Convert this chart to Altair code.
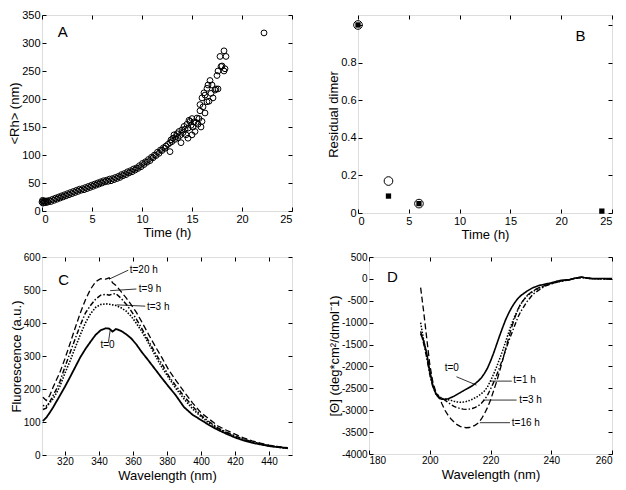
import altair as alt
import pandas as pd

FONT = "Liberation Sans"

# ---------------- Panel A : <Rh> vs time ----------------
A_time = [0.0, 0.05, 0.1, 0.15, 0.2, 0.3, 0.4, 0.5, 0.6, 0.75, 0.9, 1.05, 1.2, 1.35, 1.5,
          1.65, 1.8, 1.95, 2.1, 2.25, 2.4, 2.55, 2.7, 2.85, 3.0, 3.15, 3.3, 3.45, 3.6, 3.75,
          3.9, 4.05, 4.2, 4.35, 4.5, 4.65, 4.8, 4.95, 5.1, 5.25, 5.4, 5.55, 5.7, 5.85, 6.0,
          6.15, 6.3, 6.45, 6.6, 6.75, 6.9, 7.05, 7.2, 7.35, 7.5, 7.65, 7.8, 7.95, 8.1, 8.25,
          8.4, 8.55, 8.7, 8.85, 9.0, 9.15, 9.3, 9.45, 9.6, 9.75, 9.9, 10.05, 10.2, 10.35, 10.5,
          10.65, 10.8, 10.95, 11.1, 11.25, 11.4, 11.55, 11.7, 11.85, 12.0, 12.15, 12.3,
          12.4, 12.6, 12.8, 12.8, 12.9, 13.0, 13.1, 13.2, 13.3, 13.4, 13.5, 13.6, 13.7, 13.8,
          13.9, 14.0, 14.1, 14.2, 14.3, 14.4, 14.5, 14.6, 14.6, 14.7, 14.8, 14.9, 15.0, 15.0,
          15.1, 15.2, 15.3, 15.4, 15.5, 15.6, 15.7, 15.8, 15.8, 15.9, 16.0, 16.0, 16.1, 16.2,
          16.3, 16.3, 16.5, 16.5, 16.7, 16.6, 16.8, 16.9, 17.0, 17.1, 17.3, 17.4, 17.5, 17.6,
          17.6, 17.8, 17.9, 18.0, 18.2, 18.2, 18.3, 18.4, 22.2]
A_rh = [16, 19, 14, 18, 15, 18, 15, 18, 16, 19, 17, 21, 19, 23, 21,
        25, 23, 27, 25, 29, 27, 31, 29, 33, 31, 35, 33, 37, 35, 39,
        37, 40, 38, 42, 40, 44, 42, 46, 44, 48, 46, 50, 48, 52, 50,
        54, 52, 55, 53, 57, 54, 58, 56, 60, 58, 62, 60, 65, 63, 67,
        65, 70, 68, 72, 70, 75, 73, 77, 76, 81, 79, 85, 83, 88, 87,
        92, 90, 96, 95, 100, 99, 105, 103, 109, 108, 113, 112,
        116, 119, 106, 122, 127, 124, 130, 136, 128, 133, 138, 131, 142, 135,
        122, 145, 140, 151, 146, 136, 155, 130, 148, 162, 160, 153, 136, 165,
        150, 159, 142, 158, 166, 155, 165, 179, 190, 150, 160, 202, 186, 211,
        207, 175, 219, 195, 196, 225, 233, 210, 225, 202, 216, 218, 242, 250,
        218, 276, 258, 259, 286, 250, 254, 276, 318]
A_xticks = [0, 5, 10, 15, 20, 25]
A_yticks = [0, 50, 100, 150, 200, 250, 300, 350]

# ---------------- Panel B : residual dimer ----------------
B_circle_time = [0, 3, 6]
B_circle_dimer = [1.0, 0.17, 0.05]
B_square_time = [0, 3, 6, 24]
B_square_dimer = [1.0, 0.09, 0.05, 0.01]
B_xticks = [0, 5, 10, 15, 20, 25]
B_yticks = [0, 0.2, 0.4, 0.6, 0.8, 1.0]

# ---------------- Panel C : fluorescence ----------------
C_wavelength = [307, 309, 311, 313, 315, 317, 320, 323, 326, 329, 332, 335, 338, 341, 344,
                346, 348, 350, 353, 356, 359, 362, 365, 369, 373, 377, 381, 385, 390, 395,
                400, 405, 410, 415, 420, 425, 430, 435, 440, 445, 451]
C_t0 = [103, 113, 128, 144, 162, 180, 207, 236, 266, 296, 321, 343, 364, 378, 384,
        383, 374, 382, 376, 366, 353, 335, 313, 287, 260, 233, 207, 182, 145, 122,
        106, 90, 76, 64, 53, 44, 37, 32, 27, 24, 21]
C_t3 = [150, 148, 158, 170, 188, 208, 248, 285, 325, 364, 400, 428, 447, 456, 458,
        457, 455, 453, 446, 436, 420, 399, 376, 340, 302, 266, 234, 203, 170, 140,
        116, 96, 80, 67, 56, 47, 39, 33, 28, 24, 20]
C_t9 = [138, 142, 160, 180, 200, 222, 267, 310, 352, 393, 430, 453, 472, 484, 487,
        484, 488, 489, 475, 457, 436, 412, 385, 347, 310, 276, 240, 211, 178, 148,
        120, 100, 82, 69, 58, 48, 40, 34, 28, 24, 20]
C_t20 = [175, 165, 180, 205, 228, 250, 292, 338, 385, 430, 470, 502, 525, 534, 533,
         537, 522, 514, 495, 476, 455, 432, 405, 367, 330, 295, 258, 228, 192, 158,
         128, 108, 88, 75, 63, 52, 43, 36, 30, 26, 22]
C_series = ["t=0", "t=3 h", "t=9 h", "t=20 h"]
C_xticks = [320, 340, 360, 380, 400, 420, 440]
C_yticks = [0, 100, 200, 300, 400, 500, 600]
C_label_text = ["t=20 h", "t=9 h", "t=3 h", "t=0"]
C_label_x = [358.1, 363.4, 368.2, 340.9]
C_label_y = [560, 502, 450, 333]
C_leader_x1 = [346.0, 346.6, 350.4, 346.6]
C_leader_y1 = [533, 498, 455, 378]
C_leader_x2 = [357.2, 362.0, 367.2, 345.6]
C_leader_y2 = [560, 503, 451, 343]

# ---------------- Panel D : circular dichroism ----------------
D_wavelength = [197, 198, 199, 200, 201, 202, 203, 204, 205, 206, 207, 208, 209, 210, 211,
                212, 213, 214, 215, 216, 217, 218, 219, 220, 221, 222, 223, 224, 225, 226,
                227, 228, 229, 230, 232, 234, 236, 238, 240, 242, 244, 246, 248, 250, 252,
                254, 256, 258, 260]
D_t0 = [-1250, -1420, -1700, -2100, -2430, -2620, -2720, -2750, -2750, -2740, -2710, -2680,
        -2640, -2600, -2560, -2520, -2480, -2440, -2390, -2330, -2260, -2160, -2040, -1880,
        -1700, -1500, -1300, -1110, -930, -780, -650, -540, -450, -380, -280, -200, -150,
        -120, -90, -50, -25, -20, 20, 40, 15, 5, 10, 5, 5]
D_t1 = [-1000, -1400, -1750, -2150, -2450, -2630, -2710, -2730, -2745, -2760, -2775, -2795,
        -2810, -2820, -2815, -2800, -2780, -2750, -2715, -2675, -2620, -2560, -2470, -2330,
        -2180, -2010, -1830, -1640, -1430, -1220, -1020, -850, -710, -570, -390, -290, -210,
        -150, -105, -70, -40, -20, 15, 35, 15, 0, 5, -5, 0]
D_t3 = [-1200, -1480, -1800, -2180, -2460, -2620, -2690, -2720, -2770, -2820, -2870, -2910,
        -2940, -2960, -2975, -2980, -2975, -2960, -2935, -2900, -2840, -2760, -2660, -2520,
        -2370, -2200, -2020, -1830, -1620, -1420, -1240, -1060, -880, -740, -520, -350, -250,
        -165, -115, -75, -45, -20, 15, 30, 15, 5, 0, 5, 0]
D_t16 = [-200, -750, -1350, -1950, -2350, -2580, -2680, -2850, -3000, -3110, -3200, -3270,
         -3330, -3370, -3390, -3400, -3395, -3375, -3340, -3290, -3200, -3080, -2940, -2770,
         -2560, -2350, -2110, -1860, -1600, -1340, -1100, -890, -700, -560, -380, -270, -200,
         -150, -100, -65, -40, -15, 20, 40, 20, 5, 5, 0, 5]
D_series = ["t=0", "t=1 h", "t=3 h", "t=16 h"]
D_xticks = [180, 200, 220, 240, 260]
D_yticks = [-4000, -3500, -3000, -2500, -2000, -1500, -1000, -500, 0, 500]
D_label_text = ["t=0", "t=1 h", "t=3 h", "t=16 h"]
D_label_x = [204.9, 227.5, 229.5, 227.0]
D_label_y = [-2046, -2320, -2760, -3290]
D_leader_x1 = [208.8, 219.8, 217.6, 216.5]
D_leader_y1 = [-2236, -2335, -2768, -3285]
D_leader_x2 = [215.4, 227.0, 228.6, 226.4]
D_leader_y2 = [-2426, -2335, -2768, -3285]

# panel letters
letters = {"A": (2.07, 319), "B": (21.9, 0.94), "C": (319.2, 530), "D": (187.7, 44)}


def main_axis(values, title, label_size, title_size, label_expr=None, fmt=None,
              label_pad=2, title_pad=0):
    kw = dict(values=values, title=title, offset=-4, tickSize=4, domain=False, grid=False,
              labelFont=FONT, labelFontSize=label_size, labelColor="black",
              labelPadding=label_pad, titleFont=FONT, titleFontSize=title_size,
              titleFontWeight="normal", titleColor="black", titlePadding=title_pad,
              tickColor="black", tickWidth=1, labelOverlap=False, minExtent=0)
    if label_expr is not None:
        kw["labelExpr"] = label_expr
    if fmt is not None:
        kw["format"] = fmt
    return alt.Axis(**kw)


def mirror_axis(values, orient):
    return alt.Axis(values=values, orient=orient, labels=False, title=None, offset=-4,
                    tickSize=4, domain=False, grid=False, tickColor="black", tickWidth=1,
                    minExtent=0, maxExtent=0)


def letter_layer(key, xs, ys):
    lx, ly = letters[key]
    df = pd.DataFrame({"x": [lx], "y": [ly], "s": [key]})
    return alt.Chart(df).mark_text(font=FONT, fontSize=15, color="black").encode(
        x=alt.X("x:Q", scale=xs, axis=None), y=alt.Y("y:Q", scale=ys, axis=None), text="s:N")


def mirror_layer(df, xf, yf, xs, ys, xt, yt):
    return alt.Chart(df).mark_point(opacity=0).encode(
        x=alt.X(xf, scale=xs, axis=mirror_axis(xt, "top")),
        y=alt.Y(yf, scale=ys, axis=mirror_axis(yt, "right")))


# ---- A ----
dfA = pd.DataFrame({"t": A_time, "rh": A_rh})
xA = alt.Scale(domain=[0, 25], nice=False, zero=False)
yA = alt.Scale(domain=[0, 350], nice=False, zero=False)
ptsA = alt.Chart(dfA).mark_point(shape="circle", filled=False, size=34, strokeWidth=1,
                                 color="black", opacity=1).encode(
    x=alt.X("t:Q", scale=xA, axis=main_axis(A_xticks, "Time (h)", 11, 13, title_pad=2)),
    y=alt.Y("rh:Q", scale=yA, axis=main_axis(A_yticks, "<Rh> (nm)", 11, 13)))
panelA = alt.layer(ptsA, mirror_layer(dfA, "t:Q", "rh:Q", xA, yA, A_xticks, A_yticks),
                   letter_layer("A", xA, yA)).resolve_axis(
    x="independent", y="independent").properties(width=250, height=196)

# ---- B ----
dfBc = pd.DataFrame({"t": B_circle_time, "d": B_circle_dimer})
dfBs = pd.DataFrame({"t": B_square_time, "d": B_square_dimer})
xB = alt.Scale(domain=[0, 25], nice=False, zero=False)
yB = alt.Scale(domain=[0, 1.053], nice=False, zero=False)
circB = alt.Chart(dfBc).mark_point(shape="circle", filled=False, size=75, strokeWidth=1,
                                   color="black", opacity=1).encode(
    x=alt.X("t:Q", scale=xB, axis=main_axis(B_xticks, "Time (h)", 11, 13, title_pad=2)),
    y=alt.Y("d:Q", scale=yB, axis=main_axis(B_yticks, "Residual dimer", 11, 13,
                                           label_expr="datum.value > 0.99 ? '' : datum.label",
                                           fmt="~g")))
sqB = alt.Chart(dfBs).mark_square(size=28, color="black", opacity=1).encode(
    x=alt.X("t:Q", scale=xB, axis=None), y=alt.Y("d:Q", scale=yB, axis=None))
panelB = alt.layer(circB, sqB, mirror_layer(dfBs, "t:Q", "d:Q", xB, yB, B_xticks, B_yticks),
                   letter_layer("B", xB, yB)).resolve_axis(
    x="independent", y="independent").properties(width=254, height=198)

# ---- C ----
rowsC = []
for name, vals in zip(C_series, [C_t0, C_t3, C_t9, C_t20]):
    for w, v in zip(C_wavelength, vals):
        rowsC.append({"wl": w, "f": v, "series": name})
dfC = pd.DataFrame(rowsC)
xC = alt.Scale(domain=[306.5, 453.5], nice=False, zero=False)
yC = alt.Scale(domain=[0, 600], nice=False, zero=False)
linesC = alt.Chart(dfC).mark_line(color="black").encode(
    x=alt.X("wl:Q", scale=xC, axis=main_axis(C_xticks, "Wavelength (nm)", 10, 13,
                                             label_pad=1, title_pad=3)),
    y=alt.Y("f:Q", scale=yC, axis=main_axis(C_yticks, "Fluorescence (a.u.)", 10, 13)),
    detail="series:N",
    strokeDash=alt.StrokeDash("series:N", legend=None, scale=alt.Scale(
        domain=C_series, range=[[1, 0], [1.5, 1.5], [5, 2, 1.5, 2], [6, 3]])),
    strokeWidth=alt.StrokeWidth("series:N", legend=None, scale=alt.Scale(
        domain=C_series, range=[1.8, 1.3, 1.3, 1.3])))
dfCl = pd.DataFrame({"x": C_label_x, "y": C_label_y, "s": C_label_text})
textC = alt.Chart(dfCl).mark_text(font=FONT, fontSize=10, align="left", baseline="middle",
                                  color="black").encode(
    x=alt.X("x:Q", scale=xC, axis=None), y=alt.Y("y:Q", scale=yC, axis=None), text="s:N")
dfCr = pd.DataFrame({"x": C_leader_x1, "y": C_leader_y1, "x2": C_leader_x2, "y2": C_leader_y2})
ruleC = alt.Chart(dfCr).mark_rule(color="black", strokeWidth=0.8).encode(
    x=alt.X("x:Q", scale=xC, axis=None), y=alt.Y("y:Q", scale=yC, axis=None),
    x2="x2:Q", y2="y2:Q")
panelC = alt.layer(linesC, ruleC, textC,
                   mirror_layer(dfC, "wl:Q", "f:Q", xC, yC, C_xticks, C_yticks),
                   letter_layer("C", xC, yC)).resolve_axis(
    x="independent", y="independent").properties(width=250, height=198)

# ---- D ----
rowsD = []
for name, vals in zip(D_series, [D_t0, D_t1, D_t3, D_t16]):
    for w, v in zip(D_wavelength, vals):
        rowsD.append({"wl": w, "th": v, "series": name})
dfD = pd.DataFrame(rowsD)
xD = alt.Scale(domain=[180, 260], nice=False, zero=False)
yD = alt.Scale(domain=[-4000, 500], nice=False, zero=False)
linesD = alt.Chart(dfD).mark_line(color="black").encode(
    x=alt.X("wl:Q", scale=xD, axis=main_axis(D_xticks, "Wavelength (nm)", 10, 13,
                                             label_pad=1, title_pad=3)),
    y=alt.Y("th:Q", scale=yD, axis=main_axis(D_yticks, "[Θ] (deg*cm²/dmol⁻1)", 10, 13,
                                            label_expr="'' + datum.value")),
    detail="series:N",
    strokeDash=alt.StrokeDash("series:N", legend=None, scale=alt.Scale(
        domain=D_series, range=[[1, 0], [1.5, 1.5], [5, 2, 1.5, 2], [6, 3]])),
    strokeWidth=alt.StrokeWidth("series:N", legend=None, scale=alt.Scale(
        domain=D_series, range=[1.6, 1.3, 1.3, 1.3])))
dfDl = pd.DataFrame({"x": D_label_x, "y": D_label_y, "s": D_label_text})
textD = alt.Chart(dfDl).mark_text(font=FONT, fontSize=10, align="left", baseline="middle",
                                  color="black").encode(
    x=alt.X("x:Q", scale=xD, axis=None), y=alt.Y("y:Q", scale=yD, axis=None), text="s:N")
dfDr = pd.DataFrame({"x": D_leader_x1, "y": D_leader_y1, "x2": D_leader_x2, "y2": D_leader_y2})
ruleD = alt.Chart(dfDr).mark_rule(color="black", strokeWidth=0.8).encode(
    x=alt.X("x:Q", scale=xD, axis=None), y=alt.Y("y:Q", scale=yD, axis=None),
    x2="x2:Q", y2="y2:Q")
panelD = alt.layer(linesD, ruleD, textD,
                   mirror_layer(dfD, "wl:Q", "th:Q", xD, yD, D_xticks, D_yticks),
                   letter_layer("D", xD, yD)).resolve_axis(
    x="independent", y="independent").properties(width=243, height=197)

row1 = alt.hconcat(panelA, panelB, spacing=34)
row2 = alt.hconcat(panelC, panelD, spacing=34).resolve_scale(
    strokeDash="independent", strokeWidth="independent")
chart = alt.vconcat(row1, row2, spacing=9).resolve_scale(
    strokeDash="independent", strokeWidth="independent").properties(padding=0).configure_view(
    stroke="black", strokeWidth=1).configure_axis(titleFontWeight="normal").configure(font=FONT)

chart.save("out.html", embed_options={"renderer": "svg", "actions": False})
